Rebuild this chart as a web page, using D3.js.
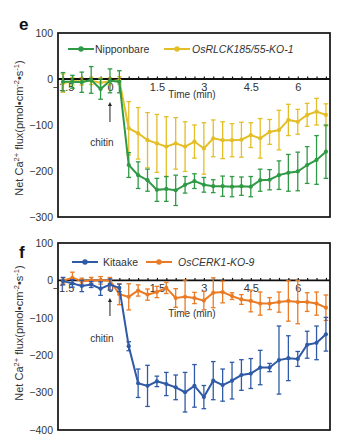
<!DOCTYPE html>
<html><head><meta charset="utf-8">
<script src="https://cdn.jsdelivr.net/npm/d3@7"></script>
<style>body{margin:0;background:#fff}svg{display:block;font-family:"Liberation Sans",Arial,sans-serif}</style>
</head><body><svg id="c" width="344" height="446"></svg>
<script>
const times = [-1.5,-1.2,-0.9,-0.6,-0.3,0,0.3,0.6,0.9,1.2,1.5,1.8,2.1,2.4,2.7,3.0,3.3,3.6,3.9,4.2,4.5,4.8,5.1,5.4,5.7,6.0,6.3,6.6,6.9];
const xTicks = [-1.5,0,1.5,3,4.5,6];
const yTicksE = [100,0,-100,-200,-300];
const yTicksF = [100,0,-100,-200,-300,-400];

const nipponbare    = [-6,-6,-7,-2,-22,-4,-6,-187,-209,-220,-241,-239,-242,-230,-222,-230,-233,-233,-234,-233,-234,-220,-219,-209,-204,-201,-187,-176,-158];
const nipponbareErr = [20,14,22,29,22,26,24,27,29,24,25,27,33,18,16,16,14,22,22,20,22,24,22,31,40,42,40,53,58];
const osrlck        = [-9,-5,-5,-4,-8,-5,-3,-107,-118,-133,-140,-147,-140,-147,-136,-151,-129,-133,-133,-132,-122,-129,-115,-111,-89,-93,-78,-71,-78];
const osrlckErr     = [20,8,8,8,10,8,8,58,56,60,63,65,56,54,36,56,40,40,36,38,27,43,27,43,34,27,25,29,24];

const kitaake       = [-2,-8,-15,-11,-22,-11,-20,-176,-275,-282,-270,-277,-286,-299,-282,-312,-268,-280,-268,-253,-249,-233,-233,-213,-208,-210,-172,-167,-144];
const kitaakeErr    = [10,10,15,8,18,15,10,12,38,55,14,31,33,53,57,31,51,43,49,41,40,46,11,91,60,20,36,45,45];
const oscerk        = [-1,7,-2,0,0,0,-37,-44,-27,-38,-31,-20,-47,-44,-47,-54,-33,-31,-42,-51,-55,-62,-62,-58,-55,-58,-58,-62,-73];
const oscerkErr     = [8,15,8,8,10,8,28,35,15,15,15,15,25,45,15,25,40,29,9,13,29,31,16,27,54,58,25,31,34];

const svg = d3.select('#c');
const x = d3.scaleLinear().domain([-1.66, 7.03]).range([58, 330]);

const panels = [
  {label:'e', top:33, bottom:217, dom:[-300,100], ticks:yTicksE, labelY:30, legY:49, timeDy:19, titleY:128,
   series:[{name:'Nipponbare', italic:false, v:nipponbare, e:nipponbareErr, c:'#2f9a45', lx:68, tx:95},
           {name:'OsRLCK185/55-KO-1', italic:true, v:osrlck, e:osrlckErr, c:'#e4be26', lx:164, tx:192}],
   arrow:[102,122], chitinY:146},
  {label:'f', top:243, bottom:430, dom:[-400,100], ticks:yTicksF, labelY:258, legY:262, timeDy:37, titleY:333,
   series:[{name:'Kitaake', italic:false, v:kitaake, e:kitaakeErr, c:'#2f5aa6', lx:72, tx:103},
           {name:'OsCERK1-KO-9', italic:true, v:oscerk, e:oscerkErr, c:'#ea7b24', lx:146, tx:178}],
   arrow:[298,316], chitinY:342}
];

panels.forEach(p => {
  const y = d3.scaleLinear().domain(p.dom).range([p.bottom, p.top]);
  const g = svg.append('g');
  g.append('text').attr('x', 19).attr('y', p.labelY).attr('font-size', 17).attr('font-weight', 'bold').attr('fill', '#111').text(p.label);
  const ya = g.append('g').attr('transform', `translate(58,0)`).call(d3.axisLeft(y).tickValues(p.ticks).tickSize(0).tickPadding(5).tickFormat(d3.format('d')));
  ya.select('.domain').remove();
  ya.selectAll('text').attr('font-size', 10.5).attr('fill', '#333').attr('font-family', '"Liberation Sans",Arial,sans-serif');
  const t = g.append('text').attr('transform', `translate(23,${p.titleY}) rotate(-90)`).attr('text-anchor', 'middle').attr('font-size', 11).attr('fill', '#333');
  t.append('tspan').text('Net Ca');
  t.append('tspan').attr('dy', -4.5).attr('font-size', 7.5).text('2+');
  t.append('tspan').attr('dy', 4.5).text(' flux(pmol•cm');
  t.append('tspan').attr('dy', -4.5).attr('font-size', 7.5).text('-2');
  t.append('tspan').attr('dy', 4.5).text('•s');
  t.append('tspan').attr('dy', -4.5).attr('font-size', 7.5).text('-1');
  t.append('tspan').attr('dy', 4.5).text(')');
  g.append('rect').attr('x', 58).attr('y', p.top).attr('width', 272).attr('height', p.bottom - p.top)
    .attr('fill', 'none').attr('stroke', '#111').attr('stroke-width', 1.7);
  const y0 = y(0);
  const minor = g.append('g').attr('transform', `translate(0,${y0})`).call(d3.axisTop(x).tickValues(times).tickSize(2.5).tickFormat(''));
  minor.select('.domain').remove();
  minor.selectAll('line').attr('stroke', '#111').attr('stroke-width', 1.2);
  const xa = g.append('g').attr('transform', `translate(0,${y0})`).call(d3.axisBottom(x).tickValues(xTicks).tickSize(0).tickPadding(4).tickFormat(d => d3.format('')(d)));
  xa.select('.domain').remove();
  xa.selectAll('text').attr('font-size', 11).attr('fill', '#333').attr('font-family', '"Liberation Sans",Arial,sans-serif');
  g.append('line').attr('x1', 58).attr('x2', 330).attr('y1', y0).attr('y2', y0).attr('stroke', '#111').attr('stroke-width', 1.9);
  g.append('text').attr('x', 192).attr('y', y0 + p.timeDy).attr('text-anchor', 'middle').attr('font-size', 10).attr('fill', '#333').text('Time (min)');
  g.append('line').attr('x1', x(0)).attr('x2', x(0)).attr('y1', p.arrow[0] + 3).attr('y2', p.arrow[1]).attr('stroke', '#222').attr('stroke-width', 1);
  g.append('path').attr('d', `M${x(0)-2},${p.arrow[0]+4} L${x(0)},${p.arrow[0]} L${x(0)+2},${p.arrow[0]+4}Z`).attr('fill', '#222');
  g.append('text').attr('x', x(0) - 8).attr('y', p.chitinY).attr('text-anchor', 'middle').attr('font-size', 10).attr('fill', '#333').text('chitin');

  p.series.slice().reverse().forEach(s => {
    const sg = g.append('g');
    const cap = 2.3;
    times.forEach((tm, i) => {
      const xx = x(tm), lo = y(s.v[i] - s.e[i]), hi = y(s.v[i] + s.e[i]);
      sg.append('line').attr('x1', xx).attr('x2', xx).attr('y1', lo).attr('y2', hi).attr('stroke', s.c).attr('stroke-width', 1.3);
      sg.append('line').attr('x1', xx - cap).attr('x2', xx + cap).attr('y1', lo).attr('y2', lo).attr('stroke', s.c).attr('stroke-width', 1.3);
      sg.append('line').attr('x1', xx - cap).attr('x2', xx + cap).attr('y1', hi).attr('y2', hi).attr('stroke', s.c).attr('stroke-width', 1.3);
    });
    const line = d3.line().x((d, i) => x(times[i])).y(d => y(d));
    sg.append('path').datum(s.v).attr('d', line).attr('fill', 'none').attr('stroke', s.c).attr('stroke-width', 2);
    sg.selectAll('circle').data(s.v).join('circle').attr('cx', (d, i) => x(times[i])).attr('cy', d => y(d)).attr('r', 2.1).attr('fill', s.c);
  });

  p.series.forEach(s => {
    g.append('line').attr('x1', s.lx).attr('x2', s.lx + 26).attr('y1', p.legY).attr('y2', p.legY).attr('stroke', s.c).attr('stroke-width', 2);
    g.append('circle').attr('cx', s.lx + 13).attr('cy', p.legY).attr('r', 2.7).attr('fill', s.c);
    g.append('text').attr('x', s.tx).attr('y', p.legY + 4).attr('font-size', 10.5).attr('fill', '#333')
      .attr('font-style', s.italic ? 'italic' : 'normal').text(s.name);
  });
});
</script></body></html>
